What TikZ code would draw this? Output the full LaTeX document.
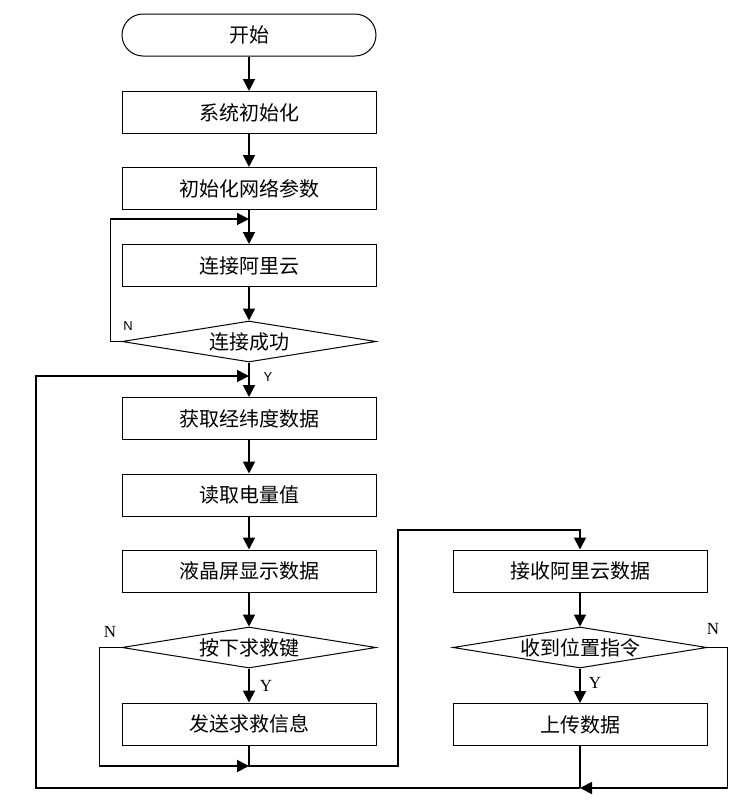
\documentclass[tikz,border=0pt]{standalone}
\usepackage{fontspec}
\newfontfamily\cjk{Noto Sans CJK SC}
\newfontfamily\lsans{Liberation Sans}
\newfontfamily\lserif{Liberation Serif}
\usetikzlibrary{arrows.meta,shapes.geometric}
\begin{document}
\begin{tikzpicture}[x=1pt,y=-1pt,
  every node/.style={inner sep=0pt},
  box/.style={draw,line width=1pt,minimum width=254pt,minimum height=42pt,font=\cjk\fontsize{20}{20}\selectfont},
  term/.style={box,rounded corners=21pt},
  dec/.style={draw,diamond,line width=1pt,aspect=6.2,minimum width=254pt,minimum height=41pt,font=\cjk\fontsize{20}{20}\selectfont},
  conn/.style={line width=1.9pt},
  arr/.style={conn,-{Triangle[length=12pt,width=12pt]}},
  lbls/.style={font=\lsans\fontsize{13}{13}\selectfont},
  lblr/.style={font=\lserif\fontsize{17}{17}\selectfont}]
\useasboundingbox (0,0) rectangle (743,801);
\node[term] (start) at (249,35) {开始};
\node[box] (init) at (249,112.5) {系统初始化};
\node[box] (net) at (249,188.5) {初始化网络参数};
\node[box] (conn) at (249,265.5) {连接阿里云};
\node[dec] (ok) at (249,341.5) {连接成功};
\node[box] (gps) at (249,418.5) {获取经纬度数据};
\node[box] (bat) at (249,495) {读取电量值};
\node[box] (lcd) at (249,571) {液晶屏显示数据};
\node[dec] (key) at (249,647.5) {按下求救键};
\node[box] (send) at (249,724) {发送求救信息};
\node[box] (recv) at (580,571) {接收阿里云数据};
\node[dec] (pos) at (580,647.5) {收到位置指令};
\node[box] (up) at (580,724.5) {上传数据};
\coordinate (m1) at (249,219);
\coordinate (m2) at (249,376);
\coordinate (m3) at (249,766);
\coordinate (r0) at (580,530);
\coordinate (jr) at (580,788);
\draw[arr] (start) -- (init);
\draw[arr] (init) -- (net);
\draw[arr] (net) -- (conn);
\draw[arr] (conn) -- (ok);
\draw[arr] (ok) -- (gps);
\draw[arr] (gps) -- (bat);
\draw[arr] (bat) -- (lcd);
\draw[arr] (lcd) -- (key);
\draw[arr] (key) -- (send);
\draw[arr] (recv) -- (pos);
\draw[arr] (pos) -- (up);
\draw[arr] (ok.west) -- ++(-11,0) |- (m1);
\draw[arr] (key.west) -- ++(-22,0) |- (m3);
\draw[arr] (send.south) -- (m3) -- ++(149,0) |- (r0) -- (recv.north);
\draw[arr] (pos.east) -- ++(20,0) |- (jr);
\draw[conn] (up.south) -- (jr);
\draw[arr] (jr) -- ++(-544,0) |- (m2);
\node[lbls] (yok) at (268,377) {Y};
\node[lbls] (nok) at (128,326) {N};
\node[lblr] (nkey) at (110,632) {N};
\node[lblr] (ykey) at (266,686) {Y};
\node[lblr] (ypos) at (595,683) {Y};
\node[lblr] (npos) at (713,629) {N};
\end{tikzpicture}
\end{document}
